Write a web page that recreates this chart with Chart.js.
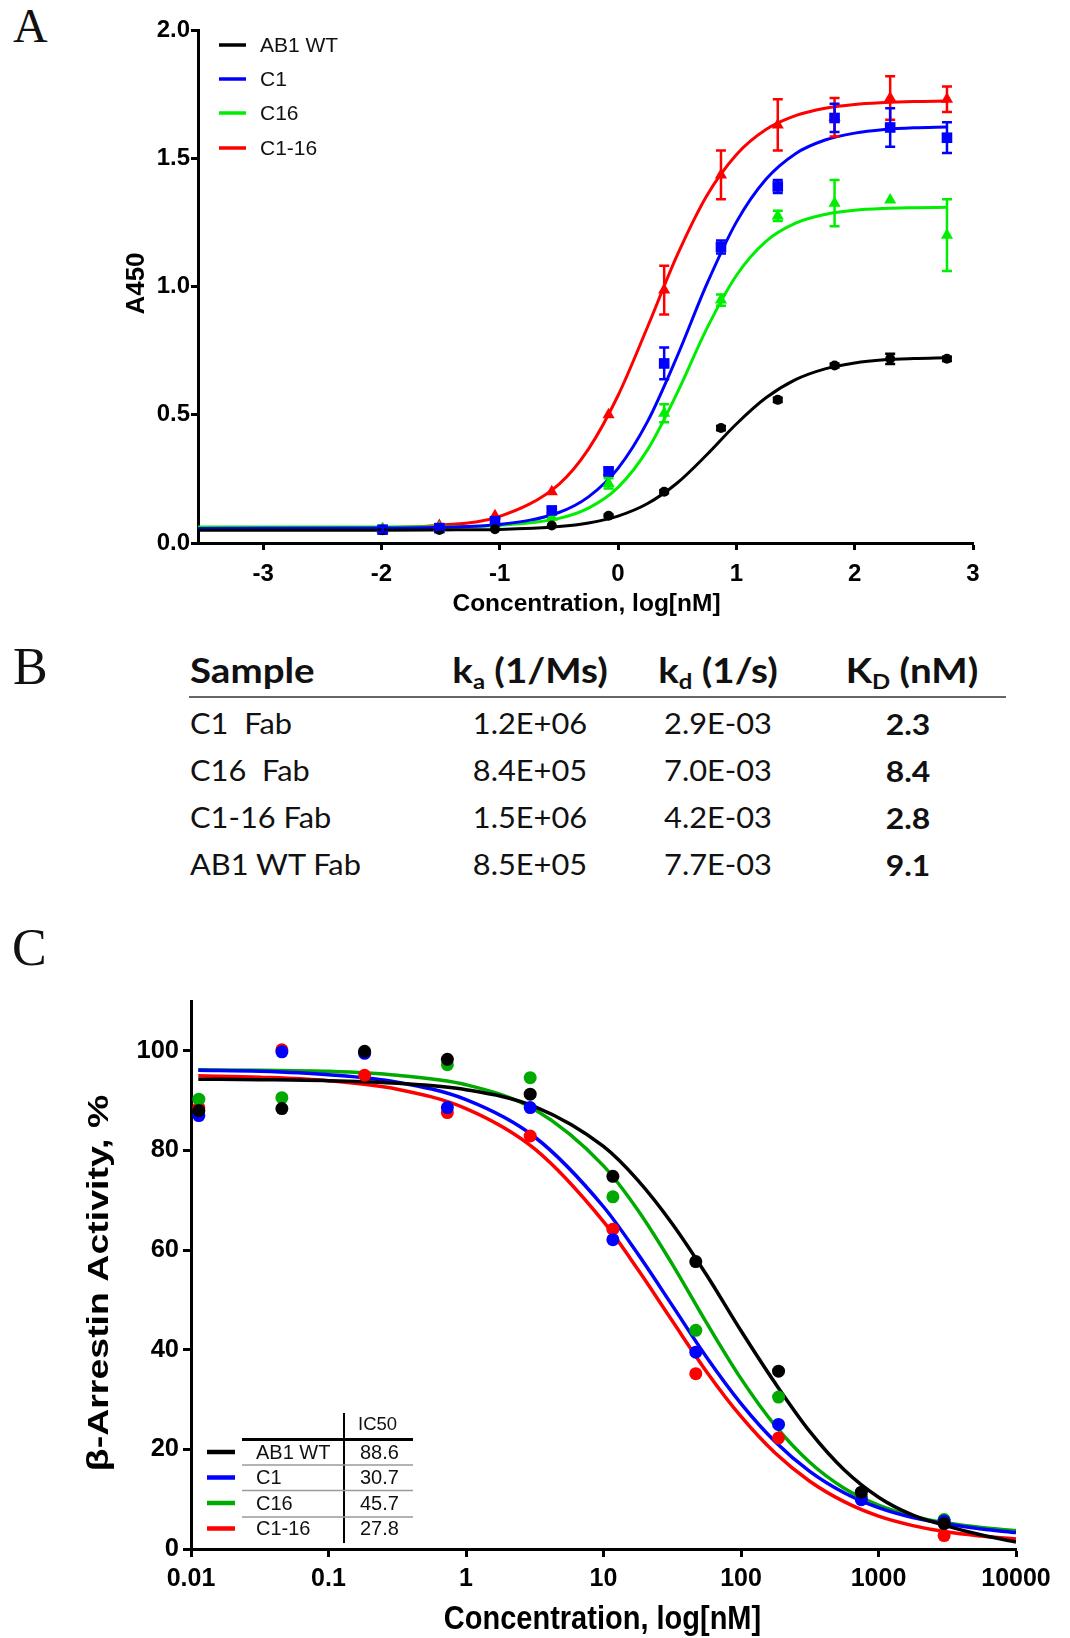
<!DOCTYPE html>
<html><head><meta charset="utf-8">
<script src="https://cdn.jsdelivr.net/npm/chart.js@4.4.1/dist/chart.umd.min.js"></script>
<style>
html,body{margin:0;padding:0;background:#fff;}
body{width:1070px;height:1638px;position:relative;overflow:hidden;}
.letter{position:absolute;font-family:'Liberation Serif','Times New Roman',serif;color:#111;}
canvas{position:absolute;left:0;}
#cA{top:0;}
#cC{top:900px;}
.tb{position:absolute;font-family:Lato,'Open Sans',sans-serif;color:#111;white-space:pre;line-height:1;}
.tb .sb{font-size:0.62em;vertical-align:-0.28em;line-height:0;}
#lineB{position:absolute;left:189px;top:696px;width:817px;height:2px;background:#666;}
</style></head>
<body>
<div class="letter" style="left:13px;top:2px;font-size:48px;line-height:48px">A</div>
<div class="letter" style="left:13px;top:641px;font-size:52px;line-height:52px">B</div>
<div class="letter" style="left:12px;top:922px;font-size:52px;line-height:52px">C</div>
<canvas id="cA" width="1070" height="620" style="width:1070px;height:620px"></canvas>
<div id="lineB"></div>
<canvas id="cC" width="1070" height="738" style="width:1070px;height:738px"></canvas>
<script>
// ---------------- DATA ----------------
const seriesNames = ['AB1 WT', 'C1', 'C16', 'C1-16'];

// Panel A: ELISA binding, x = log[nM]
const xA = [-1.99, -1.51, -1.04, -0.56, -0.08, 0.39, 0.87, 1.35, 1.83, 2.30, 2.78];
const ab1A  = [0.050, 0.051, 0.054, 0.068, 0.106, 0.200, 0.448, 0.558, 0.692, 0.718, 0.718];
const c1A   = [0.052, 0.058, 0.085, 0.127, 0.279, 0.700, 1.154, 1.390, 1.657, 1.620, 1.580];
const c16A  = [0.056, 0.060, 0.075, 0.100, 0.232, 0.506, 0.947, 1.275, 1.325, 1.337, 1.200];
const c116A = [0.055, 0.068, 0.106, 0.200, 0.500, 0.986, 1.435, 1.630, 1.660, 1.735, 1.730];
const ab1ErrA  = [0, 0, 0, 0, 0.005, 0.006, 0.008, 0.008, 0.008, 0.020, 0.008];
const c1ErrA   = [0.010, 0.005, 0.005, 0.010, 0.015, 0.062, 0.025, 0.025, 0.055, 0.075, 0.060];
const c16ErrA  = [0, 0, 0, 0, 0.020, 0.035, 0.022, 0.020, 0.090, 0, 0.140];
const c116ErrA = [0, 0, 0, 0, 0, 0.095, 0.095, 0.100, 0.075, 0.085, 0.050];
// fitted curves
const xCurveA = [-3.55, -2, -1.5, -1, -0.5, -0.25, 0, 0.25, 0.5, 0.75, 1, 1.25, 1.5, 1.75, 2, 2.25, 2.5, 2.78];
const ab1CurveA  = [0.050, 0.050, 0.051, 0.053, 0.064, 0.078, 0.105, 0.154, 0.234, 0.344, 0.464, 0.566, 0.637, 0.679, 0.702, 0.714, 0.719, 0.722];
const c1CurveA   = [0.057, 0.058, 0.061, 0.072, 0.119, 0.180, 0.291, 0.474, 0.728, 1.009, 1.251, 1.418, 1.518, 1.571, 1.598, 1.612, 1.619, 1.622];
const c16CurveA  = [0.062, 0.062, 0.063, 0.069, 0.096, 0.136, 0.217, 0.364, 0.585, 0.836, 1.043, 1.176, 1.247, 1.281, 1.297, 1.304, 1.307, 1.309];
const c116CurveA = [0.057, 0.060, 0.069, 0.104, 0.229, 0.366, 0.575, 0.843, 1.122, 1.354, 1.514, 1.612, 1.666, 1.695, 1.710, 1.717, 1.721, 1.723];
const xTicksA = [-3, -2, -1, 0, 1, 2, 3];
const yTicksA = [0, 0.5, 1.0, 1.5, 2.0];

// Panel B: kinetics table
const headersB = ['Sample', 'k<span class="sb">a</span> (1/Ms)', 'k<span class="sb">d</span> (1/s)', 'K<span class="sb">D</span> (nM)'];
const samplesB = ['C1  Fab', 'C16  Fab', 'C1-16 Fab', 'AB1 WT Fab'];
const kaB = ['1.2E+06', '8.4E+05', '1.5E+06', '8.5E+05'];
const kdB = ['2.9E-03', '7.0E-03', '4.2E-03', '7.7E-03'];
const KDB = ['2.3', '8.4', '2.8', '9.1'];

// Panel C: beta-arrestin activity, x = concentration nM (log axis)
const xC = [0.0114, 0.0458, 0.183, 0.732, 2.93, 11.7, 46.9, 187.5, 750, 3000];
const ab1C  = [88.0, 88.4, 99.9, 98.3, 91.3, 74.8, 57.7, 35.7, 11.4, 5.1];
const c1C   = [87.0, 99.8, 99.5, 88.6, 88.6, 62.1, 39.5, 25.0, 9.9, 5.6];
const c16C  = [90.3, 90.6, 99.7, 97.2, 94.6, 70.7, 43.9, 30.5, 10.5, 5.9];
const c116C = [88.6, 100.2, 95.1, 87.6, 82.9, 64.2, 35.2, 22.3, 10.2, 2.7];
const xCurveC = [0.0113, 0.0316, 0.1, 0.316, 1, 3.16, 10, 17.8, 31.6, 56.2, 100, 178, 316, 562, 1000, 1778, 3162, 5623, 10000];
const ab1CurveC  = [94.3, 94.2, 94.0, 93.5, 92.2, 88.8, 80.8, 74.0, 65.3, 55.0, 43.8, 33.2, 23.6, 15.9, 10.4, 6.8, 4.6, 2.8, 1.4];
const c1CurveC   = [96.1, 95.9, 95.2, 93.7, 90.2, 82.7, 68.7, 59.2, 48.9, 38.5, 29.2, 21.5, 15.6, 11.3, 8.3, 6.3, 5.0, 4.0, 3.3];
const c16CurveC  = [96.2, 96.1, 95.9, 95.1, 93.2, 88.2, 76.9, 68.0, 57.2, 45.4, 34.2, 24.7, 17.4, 12.2, 8.8, 6.6, 5.2, 4.3, 3.7];
const c116CurveC = [95.0, 94.7, 94.0, 92.3, 88.4, 80.3, 65.7, 56.1, 45.8, 35.6, 26.6, 19.2, 13.6, 9.5, 6.6, 4.7, 3.4, 2.6, 2.0];
const ic50C = ['88.6', '30.7', '45.7', '27.8'];
const xTicksC = [0.01, 0.1, 1, 10, 100, 1000, 10000];
const xTickLabelsC = ['0.01', '0.1', '1', '10', '100', '1000', '10000'];
const yTicksC = [0, 20, 40, 60, 80, 100];

// ---------------- STYLE ----------------
const FONT = "'Liberation Sans', Arial, Helvetica, sans-serif";
const colorsA = ['#000000', '#0000ff', '#00ee00', '#ff0000'];
const colorsC = ['#000000', '#0000ff', '#00aa00', '#ff0000'];
const markersA = ['circle', 'rect', 'triangle', 'triangle'];
const radiusA = [5, 7.5, 7, 7];

const ptsA = [ab1A, c1A, c16A, c116A];
const errA = [ab1ErrA, c1ErrA, c16ErrA, c116ErrA];
const crvA = [ab1CurveA, c1CurveA, c16CurveA, c116CurveA];
const ptsC = [ab1C, c1C, c16C, c116C];
const crvC = [ab1CurveC, c1CurveC, c16CurveC, c116CurveC];

function axisStyle(tickLen, pad, fontSize) {
  return {
    grid: { display: true, drawOnChartArea: false, drawTicks: true, tickLength: tickLen, tickWidth: 3, tickColor: '#000' },
    border: { display: true, width: 3, color: '#000' },
    ticks: { color: '#000', padding: pad, autoSkip: false, maxRotation: 0, minRotation: 0,
             font: { family: FONT, size: fontSize, weight: 'bold' } }
  };
}

function titlesPlugin(cfg) {
  return {
    id: 'titles' + cfg.id,
    afterDraw(chart) {
      const ctx = chart.ctx, a = chart.chartArea;
      ctx.save();
      ctx.fillStyle = '#000';
      ctx.textAlign = 'center';
      ctx.textBaseline = 'middle';
      ctx.save();
      ctx.translate((a.left + a.right) / 2 + cfg.xShift, cfg.xTitleY);
      ctx.scale(1, cfg.xStretch);
      ctx.font = 'bold ' + cfg.xSize + 'px ' + FONT;
      ctx.fillText(cfg.xTitle, 0, 0);
      ctx.restore();
      ctx.save();
      ctx.translate(cfg.yTitleX, (a.top + a.bottom) / 2 + cfg.yShift);
      ctx.rotate(-Math.PI / 2);
      ctx.scale(cfg.yStretch, 1);
      ctx.font = 'bold ' + cfg.ySize + 'px ' + FONT;
      ctx.fillText(cfg.yTitle, 0, 0);
      ctx.restore();
      ctx.restore();
    }
  };
}

// ---------------- PANEL A ----------------
const datasetsA = [];
ptsA.forEach((vals, i) => datasetsA.push({
  label: seriesNames[i], data: xA.map((x, j) => ({ x: x, y: vals[j] })),
  showLine: false, pointStyle: markersA[i], pointRadius: radiusA[i],
  backgroundColor: colorsA[i], borderColor: colorsA[i], pointBorderWidth: 0
}));
crvA.forEach((vals, i) => datasetsA.push({
  label: seriesNames[i] + ' fit', data: xCurveA.map((x, j) => ({ x: x, y: vals[j] })),
  showLine: true, pointRadius: 0, borderColor: colorsA[i], borderWidth: 3,
  cubicInterpolationMode: 'monotone', fill: false
}));

const errBarsA = {
  id: 'errBarsA',
  afterDatasetsDraw(chart) {
    const ctx = chart.ctx, xs = chart.scales.x, ys = chart.scales.y;
    ctx.save();
    ctx.lineWidth = 2.5;
    for (let i = ptsA.length - 1; i >= 0; i--) {
      ctx.strokeStyle = colorsA[i];
      xA.forEach((xv, j) => {
        const e = errA[i][j];
        if (!e) return;
        const px = xs.getPixelForValue(xv);
        const pt = ys.getPixelForValue(ptsA[i][j] + e);
        const pb = ys.getPixelForValue(ptsA[i][j] - e);
        ctx.beginPath();
        ctx.moveTo(px, pt); ctx.lineTo(px, pb);
        ctx.moveTo(px - 5, pt); ctx.lineTo(px + 5, pt);
        ctx.moveTo(px - 5, pb); ctx.lineTo(px + 5, pb);
        ctx.stroke();
      });
    }
    ctx.restore();
  }
};

const legendA = {
  id: 'legendA',
  afterDraw(chart) {
    const ctx = chart.ctx;
    const rowsY = [45, 79, 113, 148];
    ctx.save();
    ctx.font = '21px ' + FONT;
    ctx.textBaseline = 'middle';
    ctx.textAlign = 'left';
    seriesNames.forEach((n, i) => {
      ctx.strokeStyle = colorsA[i];
      ctx.lineWidth = 3.5;
      ctx.beginPath(); ctx.moveTo(219, rowsY[i]); ctx.lineTo(246, rowsY[i]); ctx.stroke();
      ctx.fillStyle = '#111';
      ctx.fillText(n, 260, rowsY[i] + 1);
    });
    ctx.restore();
  }
};

const axA = axisStyle(7, 1, 24);
const axAx = axisStyle(7, 10, 24);
new Chart(document.getElementById('cA'), {
  type: 'scatter',
  data: { datasets: datasetsA },
  options: {
    responsive: false, animation: false, events: [],
    layout: { padding: { left: 0, right: 97, top: 30, bottom: 17 } },
    plugins: { legend: { display: false }, tooltip: { enabled: false } },
    scales: {
      x: Object.assign({}, axAx, {
        type: 'linear', min: -3.55, max: 3,
        afterBuildTicks: s => { s.ticks = xTicksA.map(v => ({ value: v })); },
        afterFit: s => { s.height = 60; },
        ticks: Object.assign({}, axAx.ticks, { callback: v => String(v) })
      }),
      y: Object.assign({}, axA, {
        type: 'linear', min: 0, max: 2,
        afterBuildTicks: s => { s.ticks = yTicksA.map(v => ({ value: v })); },
        afterFit: s => { s.width = 198; },
        ticks: Object.assign({}, axA.ticks, { callback: v => Number(v).toFixed(1) })
      })
    }
  },
  plugins: [errBarsA, legendA, titlesPlugin({ id: 'A', xTitle: 'Concentration, log[nM]', xTitleY: 604, xShift: 1, xSize: 24.5, xStretch: 1,
    yTitle: 'A450', yTitleX: 137, yShift: -3, ySize: 26, yStretch: 1 })]
});

// ---------------- PANEL B ----------------
function addText(html, x, y, size, weight, align, sx) {
  const d = document.createElement('div');
  d.className = 'tb';
  d.innerHTML = html;
  d.style.fontSize = size + 'px';
  d.style.fontWeight = weight;
  d.style.left = x + 'px';
  d.style.top = y + 'px';
  d.style.transformOrigin = align === 'center' ? 'center center' : 'left center';
  d.style.transform = 'translate(' + (align === 'center' ? '-50%' : '0') + ',-50%) scaleX(' + sx + ')';
  document.body.appendChild(d);
}
const headerXB = [190, 530, 718, 912];
const colXB = [190, 530, 718, 908];
const headerYB = 669;
const rowYB = [723, 770, 817, 864];
headersB.forEach((h, i) => addText(h, headerXB[i], headerYB, 35, 700, i === 0 ? 'left' : 'center', 1.1));
samplesB.forEach((s, r) => {
  addText(s, colXB[0], rowYB[r], 28, 400, 'left', 1.1);
  addText(kaB[r], colXB[1], rowYB[r], 28, 400, 'center', 1.1);
  addText(kdB[r], colXB[2], rowYB[r], 28, 400, 'center', 1.1);
  addText(KDB[r], colXB[3], rowYB[r], 29, 700, 'center', 1.1);
});

// ---------------- PANEL C ----------------
const datasetsC = [];
ptsC.forEach((vals, i) => datasetsC.push({
  label: seriesNames[i], data: xC.map((x, j) => ({ x: x, y: vals[j] })),
  showLine: false, pointStyle: 'circle', pointRadius: 6.5,
  backgroundColor: colorsC[i], borderColor: colorsC[i], pointBorderWidth: 0
}));
crvC.forEach((vals, i) => datasetsC.push({
  label: seriesNames[i] + ' fit', data: xCurveC.map((x, j) => ({ x: x, y: vals[j] })),
  showLine: true, pointRadius: 0, borderColor: colorsC[i], borderWidth: 3.5,
  cubicInterpolationMode: 'monotone', fill: false
}));

const legendC = {
  id: 'legendC',
  afterDraw(chart) {
    const ctx = chart.ctx;
    const rowsY = [552, 577.5, 603, 628.5];
    const sepY = [565, 590.5, 617];
    ctx.save();
    ctx.strokeStyle = '#000'; ctx.lineWidth = 2;
    ctx.beginPath(); ctx.moveTo(344, 513); ctx.lineTo(344, 643); ctx.stroke();
    ctx.lineWidth = 3;
    ctx.beginPath(); ctx.moveTo(242, 539.5); ctx.lineTo(413, 539.5); ctx.stroke();
    ctx.strokeStyle = '#9a9a9a'; ctx.lineWidth = 1.5;
    sepY.forEach(y => { ctx.beginPath(); ctx.moveTo(242, y); ctx.lineTo(413, y); ctx.stroke(); });
    ctx.fillStyle = '#111';
    ctx.textBaseline = 'middle';
    ctx.textAlign = 'left';
    ctx.font = '18.5px ' + FONT;
    ctx.fillText('IC50', 358, 525);
    ctx.font = '20px ' + FONT;
    seriesNames.forEach((n, i) => {
      ctx.strokeStyle = colorsC[i]; ctx.lineWidth = 4.5;
      ctx.beginPath(); ctx.moveTo(207, rowsY[i]); ctx.lineTo(235, rowsY[i]); ctx.stroke();
      ctx.fillText(n, 256, rowsY[i] + 1);
      ctx.fillText(ic50C[i], 360, rowsY[i] + 1);
    });
    ctx.restore();
  }
};

const axCy = axisStyle(8, 4, 25.5);
const axCx = axisStyle(8, 7, 25);
new Chart(document.getElementById('cC'), {
  type: 'scatter',
  data: { datasets: datasetsC },
  options: {
    responsive: false, animation: false, events: [],
    layout: { padding: { left: 0, right: 54, top: 101, bottom: 29 } },
    plugins: { legend: { display: false }, tooltip: { enabled: false } },
    scales: {
      x: Object.assign({}, axCx, {
        type: 'logarithmic', min: 0.01, max: 10000,
        afterBuildTicks: s => { s.ticks = xTicksC.map(v => ({ value: v })); },
        afterFit: s => { s.height = 60; },
        ticks: Object.assign({}, axCx.ticks, {
          callback: v => {
            const k = xTicksC.findIndex(t => Math.abs(Math.log10(t) - Math.log10(v)) < 1e-6);
            return k >= 0 ? xTickLabelsC[k] : '';
          }
        })
      }),
      y: Object.assign({}, axCy, {
        type: 'linear', min: 0, max: 110,
        afterBuildTicks: s => { s.ticks = yTicksC.map(v => ({ value: v })); },
        afterFit: s => { s.width = 191; },
        ticks: Object.assign({}, axCy.ticks, { callback: v => String(v) })
      })
    }
  },
  plugins: [legendC, titlesPlugin({ id: 'C', xTitle: 'Concentration, log[nM]', xTitleY: 720, xShift: -1, xSize: 29, xStretch: 1.12,
    yTitle: 'β-Arrestin Activity, %', yTitleX: 100, yShift: 8, ySize: 30, yStretch: 1.25 })]
});
</script>
</body></html>
